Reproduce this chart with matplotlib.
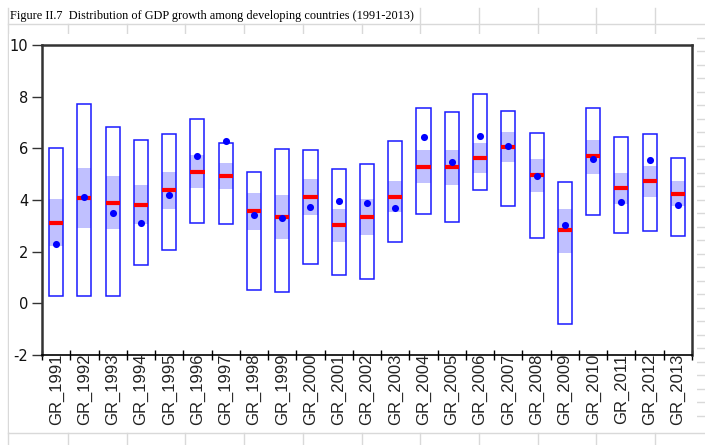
import matplotlib
matplotlib.use("Agg")
import matplotlib.pyplot as plt
import numpy as np
from matplotlib.lines import Line2D
from matplotlib.patches import Rectangle

# ---- data ----
years = list(range(1991, 2014))
labels = [f"GR_{y}" for y in years]
v_max = [6.03, 7.71, 6.81, 6.34, 6.56, 7.13, 6.21, 5.09, 5.96, 5.93, 5.21, 5.38,
         6.28, 7.57, 7.40, 8.10, 7.45, 6.60, 4.68, 7.57, 6.42, 6.54, 5.62]
v_q3 = [4.02, 5.25, 4.92, 4.57, 5.08, 5.74, 5.43, 4.26, 4.19, 4.81, 3.67, 4.02,
        4.74, 5.93, 5.93, 6.21, 6.64, 5.58, 3.67, 6.32, 5.04, 5.30, 4.72]
v_median = [3.11, 4.08, 3.90, 3.81, 4.38, 5.10, 4.92, 3.57, 3.35, 4.12, 3.02, 3.35,
            4.13, 5.28, 5.26, 5.63, 6.07, 4.95, 2.82, 5.69, 4.46, 4.72, 4.24]
v_q1 = [2.21, 2.92, 2.88, 3.06, 3.67, 4.46, 4.42, 2.84, 2.48, 3.42, 2.38, 2.65,
        3.52, 4.64, 4.59, 5.04, 5.48, 4.31, 1.96, 5.01, 3.86, 4.12, 3.77]
v_min = [0.27, 0.27, 0.30, 1.47, 2.07, 3.10, 3.06, 0.50, 0.45, 1.52, 1.11, 0.93,
         2.39, 3.45, 3.14, 4.38, 3.75, 2.53, -0.79, 3.41, 2.73, 2.79, 2.61]
v_mean = [2.30, 4.10, 3.50, 3.10, 4.21, 5.71, 6.29, 3.41, 3.32, 3.71, 3.97, 3.88,
          3.68, 6.42, 5.48, 6.48, 6.10, 4.93, 3.03, 5.59, 3.93, 5.56, 3.81]
y_ticks = [-2, 0, 2, 4, 6, 8, 10]
title = "Figure II.7  Distribution of GDP growth among developing countries (1991-2013)"

W, H = 705, 445
fig = plt.figure(figsize=(W / 100, H / 100), dpi=100)

def fx(px):
    return px / W

def fy(py):
    return 1 - py / H

grid_c = "#d9d9d9"
# spreadsheet background grid
def fline(x0, y0, x1, y1):
    fig.add_artist(Line2D([fx(x0), fx(x1)], [fy(y0), fy(y1)], color=grid_c, lw=1, zorder=-2))

fline(8, 8, 8, 445)
fline(8, 23.5, 705, 23.5)
fline(8, 433, 705, 433)
for k in range(11):
    xv = 68 + 58.7 * k
    top = 23.5 if xv < 420 else 8
    fline(xv, top, xv, 34)
    fline(xv, 433, xv, 445)
for k in range(29):
    yv = 37.7 + 13.5 * k
    fline(697, yv, 705, yv)

# white chart area
fig.add_artist(Rectangle((fx(9), fy(432)), fx(697) - fx(9), fy(34) - fy(432),
                         facecolor="white", edgecolor="none", zorder=-1))

fig.text(fx(10), fy(19), title, family="Liberation Serif", fontsize=8.8,
         ha="left", va="baseline")

ax = fig.add_axes([fx(42), fy(355), fx(692) - fx(42), fy(45) - fy(355)])
ax.set_facecolor("none")
ax.set_zorder(5)

x = np.arange(len(years))
bw = 0.5
vmax = np.array(v_max); vmin = np.array(v_min)
q1 = np.array(v_q1); q3 = np.array(v_q3)

ax.bar(x, vmax - vmin, bottom=vmin, width=bw, facecolor="white", edgecolor="none", zorder=1)
ax.bar(x, q3 - q1, bottom=q1, width=bw, facecolor="#c0c0ff", edgecolor="none", zorder=2)
ax.bar(x, vmax - vmin, bottom=vmin, width=bw, facecolor="none", edgecolor="#1a1aff",
       linewidth=1.1, zorder=3)
ax.hlines(v_median, x - bw / 2, x + bw / 2, color="#ff0000", linewidth=3, zorder=4)
ax.scatter(x, v_mean, s=26, color="#0000ff", zorder=5, linewidths=0)

ax.set_xlim(-0.5, len(years) - 0.5)
ax.set_ylim(-2, 10)
ax.set_yticks(y_ticks)
ax.set_yticklabels([str(t) for t in y_ticks], family="DejaVu Sans", fontsize=10.5,
                   color="#111111")
ax.tick_params(axis="y", direction="out", length=7, width=1, color="#333333", pad=3)

ax.set_xticks(x)
ax.set_xticklabels(labels, rotation=90, family="Liberation Sans", fontsize=12,
                   ha="center", va="top", color="#222222")
ax.tick_params(axis="x", which="major", length=0, pad=-1)
ax.set_xticks(np.arange(len(years) + 1) - 0.5, minor=True)
ax.tick_params(axis="x", which="minor", direction="inout", length=7, width=1, color="black")

for s in ["top", "left", "right"]:
    ax.spines[s].set_color("#333333")
    ax.spines[s].set_linewidth(1.8)
ax.spines["bottom"].set_color("black")
ax.spines["bottom"].set_linewidth(1.2)

fig.savefig("out.png", dpi=100)
